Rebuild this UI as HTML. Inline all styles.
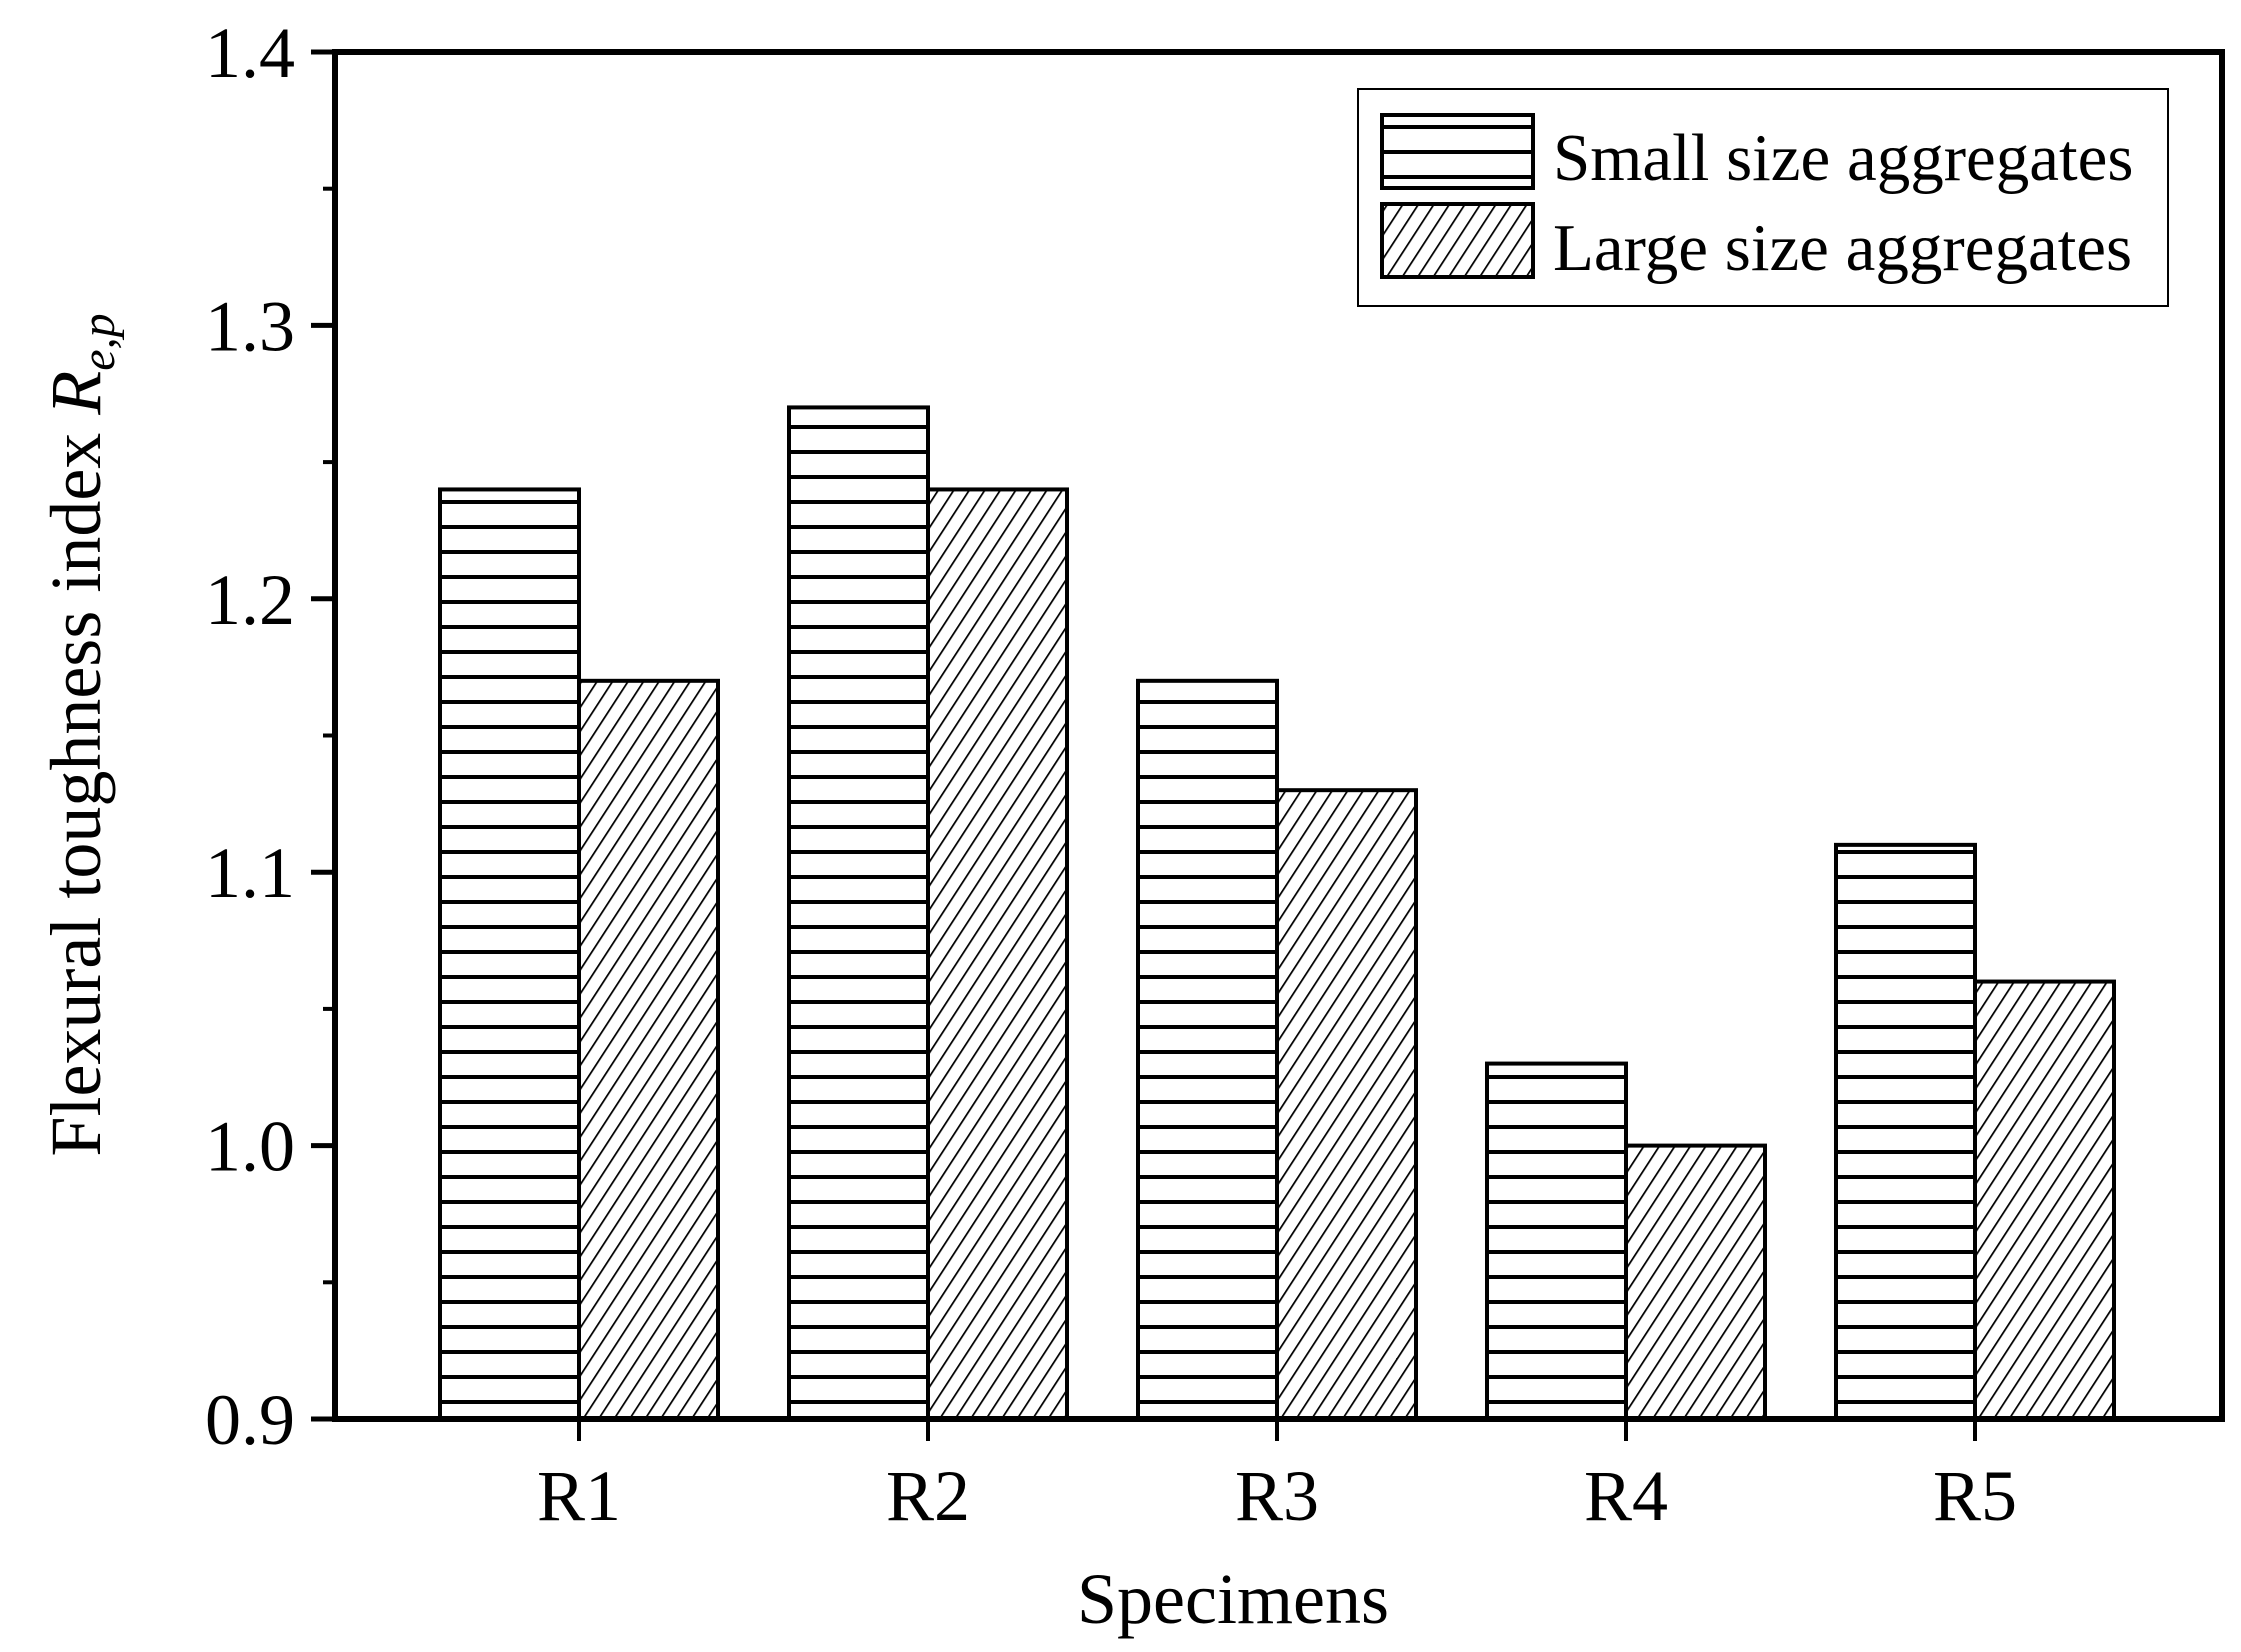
<!DOCTYPE html>
<html><head><meta charset="utf-8"><style>
html,body{margin:0;padding:0;background:#fff;}
svg{display:block;}
text{font-family:"Liberation Serif",serif;fill:#000;}
</style></head><body>
<svg id="chart" width="2241" height="1652" viewBox="0 0 2241 1652" xmlns="http://www.w3.org/2000/svg">
<defs>
<pattern id="hz" patternUnits="userSpaceOnUse" width="20" height="25"><rect width="20" height="25" fill="#fff"/><line x1="0" y1="2" x2="20" y2="2" stroke="#000" stroke-width="4"/></pattern>
<pattern id="dg" patternUnits="userSpaceOnUse" width="13" height="13" patternTransform="rotate(33)"><rect width="13" height="13" fill="#fff"/><line x1="0" y1="0" x2="0" y2="13" stroke="#000" stroke-width="3.5"/></pattern>
</defs>
<g id="bars"></g>
<g id="axes"></g>
<text x="1233" y="1623" font-size="72" text-anchor="middle">Specimens</text>
<text transform="translate(100,735) rotate(-90)" font-size="72" text-anchor="middle">Flexural toughness index <tspan font-style="italic">R</tspan><tspan font-style="italic" font-size="48" dy="14">e,p</tspan></text>
<g>
<rect x="1358" y="89" width="810" height="217" fill="#fff" stroke="#000" stroke-width="2"/>
<g>
<rect x="1382" y="115" width="151" height="73" fill="url(#hz)" stroke="#000" stroke-width="4"/>
<text x="1553" y="180" font-size="67">Small size aggregates</text></g>
<g>
<rect x="1382" y="204" width="151" height="73" fill="url(#dg)" stroke="#000" stroke-width="4"/>
<text x="1553" y="270" font-size="67">Large size aggregates</text></g>
</g>
</svg>
<script>
const categories = ["R1","R2","R3","R4","R5"];
const smallValues = [1.24,1.27,1.17,1.03,1.11];
const largeValues = [1.17,1.24,1.13,1.00,1.06];
const yTicks = ["0.9","1.0","1.1","1.2","1.3","1.4"];

const NS="http://www.w3.org/2000/svg";
const L=335,R=2222,T=52,B=1419,yMin=0.9,yMax=1.4;
const y=v=>B-(v-yMin)/(yMax-yMin)*(B-T);
const xc=i=>579+349*i;
const bw=139;
function mk(tag,attrs,parent){const e=document.createElementNS(NS,tag);for(const k in attrs)e.setAttribute(k,attrs[k]);parent.appendChild(e);return e;}
const bars=document.getElementById('bars'),axes=document.getElementById('axes');
categories.forEach((c,i)=>{
  let r=mk('rect',{x:xc(i)-bw,y:y(smallValues[i]),width:bw,height:B-y(smallValues[i]),fill:'url(#hz)',stroke:'#000','stroke-width':4},bars);
  
  
  let r2=mk('rect',{x:xc(i),y:y(largeValues[i]),width:bw,height:B-y(largeValues[i]),fill:'url(#dg)',stroke:'#000','stroke-width':4},bars);
  
  
  mk('line',{x1:xc(i),y1:B,x2:xc(i),y2:B+22,stroke:'#000','stroke-width':4},axes);
  let t=mk('text',{x:xc(i),y:1520,'font-size':72,'text-anchor':'middle'},axes);
  t.textContent=c;
  
  
});
yTicks.forEach((s,i)=>{
  const v=parseFloat(s),yy=y(v);
  mk('line',{x1:L-24,y1:yy,x2:L,y2:yy,stroke:'#000','stroke-width':5},axes);
  if(i<yTicks.length-1){const ym=y(v+0.05);mk('line',{x1:L-12,y1:ym,x2:L,y2:ym,stroke:'#000','stroke-width':4},axes);}
  let t=mk('text',{x:295,y:yy+25,'font-size':72,'text-anchor':'end'},axes);
  t.textContent=s;
  
  
});
const f=mk('rect',{x:L,y:T,width:R-L,height:B-T,fill:'none',stroke:'#000','stroke-width':6},axes);


</script>
</body></html>
